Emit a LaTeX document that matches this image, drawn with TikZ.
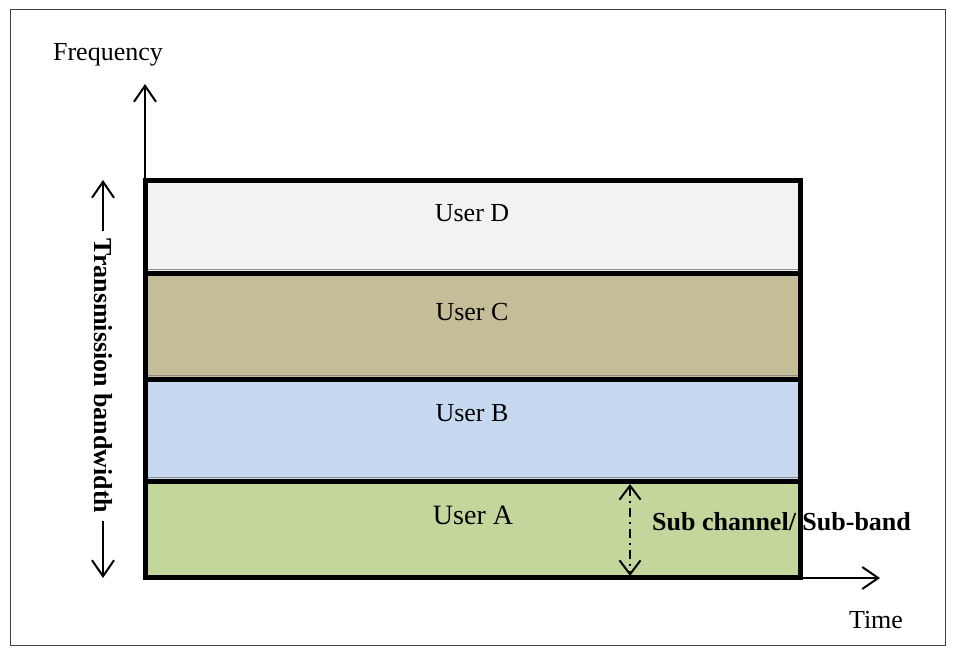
\documentclass[tikz,border=0pt]{standalone}
\usepackage{fontspec}
\setmainfont{Liberation Serif}
\usetikzlibrary{arrows.meta}
\definecolor{userD}{HTML}{F2F2F2}
\definecolor{userC}{HTML}{C4BD97}
\definecolor{userB}{HTML}{C6D9F1}
\definecolor{userA}{HTML}{C3D69B}
\begin{document}
\begin{tikzpicture}[x=1pt,y=-1pt,
  txt/.style={font=\fontsize{26}{30}\selectfont, inner sep=0pt},
  boldtxt/.style={font=\fontsize{26}{30}\selectfont\bfseries, inner sep=0pt},
  barb/.style={-{Straight Barb[length=16pt,width=22pt,line width=2pt]}},
  axisline/.style={line width=2pt, barb},
  bandline/.style={line width=5pt},
  banddiv/.style={line width=5pt},
  subarrow/.style={line width=2pt, dash pattern=on 9pt off 5pt on 2pt off 5pt,
    {Straight Barb[length=14pt,width=21pt,line width=2pt]}-{Straight Barb[length=14pt,width=21pt,line width=2pt]}}
]
\useasboundingbox (0,0) rectangle (955,655);
% frame
\draw[black!75, line width=1pt] (10,10) rectangle (945,645);

% bands of the transmission bandwidth
\fill[userD] (145,181) rectangle (800,272);
\fill[userC] (145,272) rectangle (800,378);
\fill[userB] (145,378) rectangle (800,480);
\fill[userA] (145,480) rectangle (800,577);
\draw[black!45, line width=0.8pt] (145,269) -- (800,269) (145,375) -- (800,375) (145,477) -- (800,477);
\draw[banddiv] (145,273) -- (800,273);
\draw[banddiv] (145,379) -- (800,379);
\draw[banddiv] (145,481) -- (800,481);
\draw[bandline] (145,181) rectangle (800,577);

\node[txt] (labD) at (472,213) {User D};
\node[txt] (labC) at (472,312) {User C};
\node[txt] (labB) at (472,413) {User B};
\node[txt, font=\fontsize{28}{32}\selectfont] (labA) at (473,515) {User A};

% axes
\coordinate (O) at (145,578);
\coordinate (ytip) at (145,84);
\coordinate (xtip) at (880,578);
\draw[axisline] (O) -- (ytip);
\draw[axisline] (O) -- (xtip);
\node[txt] (freq) at (108,55) {Frequency};
\node[txt] (time) at (876,620) {Time};

% transmission bandwidth marker
\node[boldtxt, rotate=-90] (tb) at (103,376) {Transmission bandwidth};
\coordinate (tbtop) at (103,180);
\coordinate (tbbot) at (103,578);
\draw[line width=2pt, barb] (tb.west) ++(0,-7) -- (tbtop);
\draw[line width=2pt, barb] (tb.east) ++(0,7) -- (tbbot);

% sub channel marker
\coordinate (s1) at (630,484);
\coordinate (s2) at (630,576);
\draw[subarrow] (s1) -- (s2);
\node[boldtxt, anchor=west] (sub) at (652,522) {Sub channel/ Sub-band};
\end{tikzpicture}
\end{document}
